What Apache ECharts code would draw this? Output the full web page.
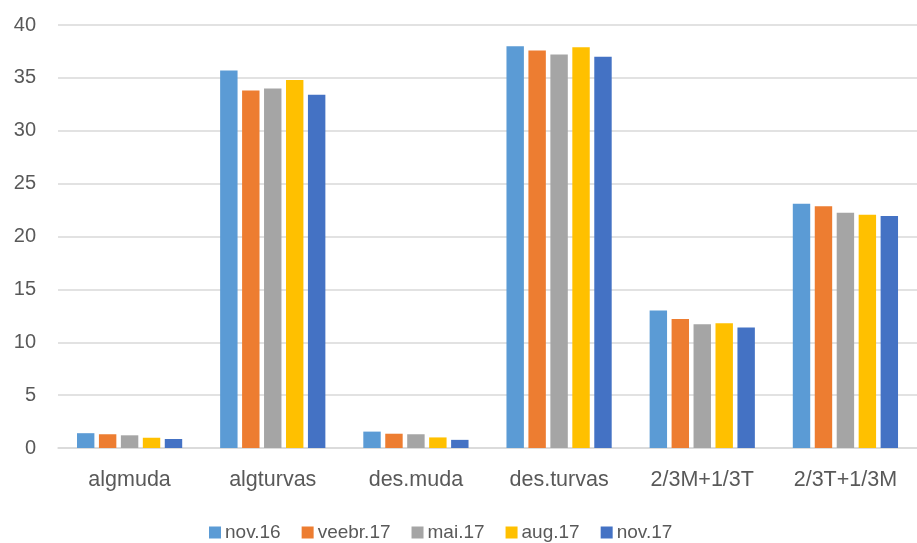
<!DOCTYPE html>
<html>
<head>
<meta charset="utf-8">
<script src="https://cdn.jsdelivr.net/npm/echarts@6/dist/echarts.min.js"></script>
<style>
  html, body { margin: 0; padding: 0; background: #fff; }
  #chart { width: 917px; height: 543px; }
</style>
</head>
<body>
<div id="chart"></div>
<script>
// Measurement groups on the x axis
const categories = ['algmuda', 'algturvas', 'des.muda', 'des.turvas', '2/3M+1/3T', '2/3T+1/3M'];

// One series per sampling date
const seriesNames = ['nov.16', 'veebr.17', 'mai.17', 'aug.17', 'nov.17'];
const nov16  = [1.4, 35.7, 1.55, 38.0, 13.0, 23.1];
const veebr17 = [1.3, 33.8, 1.35, 37.6, 12.2, 22.85];
const mai17  = [1.2, 34.0, 1.3, 37.2, 11.7, 22.25];
const aug17  = [0.97, 34.8, 1.0, 37.9, 11.8, 22.05];
const nov17b = [0.85, 33.4, 0.77, 37.0, 11.4, 21.95];

const seriesValues = [nov16, veebr17, mai17, aug17, nov17b];
const seriesColors = ['#5B9BD5', '#ED7D31', '#A5A5A5', '#FFC000', '#4472C4'];

const yTicks = { min: 0, max: 40, interval: 5 };

const textColor = '#595959';
const fontFamily = '"Liberation Sans", Arial, sans-serif';

const chart = echarts.init(document.getElementById('chart'), null, { renderer: 'canvas' });

chart.setOption({
  animation: false,
  backgroundColor: '#ffffff',
  textStyle: { fontFamily: fontFamily },
  grid: { left: 58, top: 25, width: 866, bottom: 95, containLabel: false },
  legend: {
    data: seriesNames,
    left: 204,
    top: 518,
    itemWidth: 12,
    itemHeight: 12,
    itemGap: 21,
    icon: 'rect',
    textStyle: { color: textColor, fontSize: 19, fontFamily: fontFamily, padding: [0, 0, 0, -1] }
  },
  xAxis: {
    type: 'category',
    data: categories,
    axisTick: { show: false },
    axisLine: { show: true, lineStyle: { color: '#d9d9d9', width: 1.5 } },
    axisLabel: { color: textColor, fontSize: 21.5, margin: 21, fontFamily: fontFamily }
  },
  yAxis: {
    type: 'value',
    min: yTicks.min,
    max: yTicks.max,
    interval: yTicks.interval,
    axisLine: { show: false },
    axisTick: { show: false },
    axisLabel: { color: textColor, fontSize: 20, margin: 22, fontFamily: fontFamily },
    splitLine: { lineStyle: { color: '#d9d9d9', width: 1.5 } }
  },
  series: seriesNames.map((name, i) => ({
    name: name,
    type: 'bar',
    data: seriesValues[i],
    barGap: '26%',
    barCategoryGap: '26.5%',
    itemStyle: { color: seriesColors[i] }
  }))
});
</script>
</body>
</html>
